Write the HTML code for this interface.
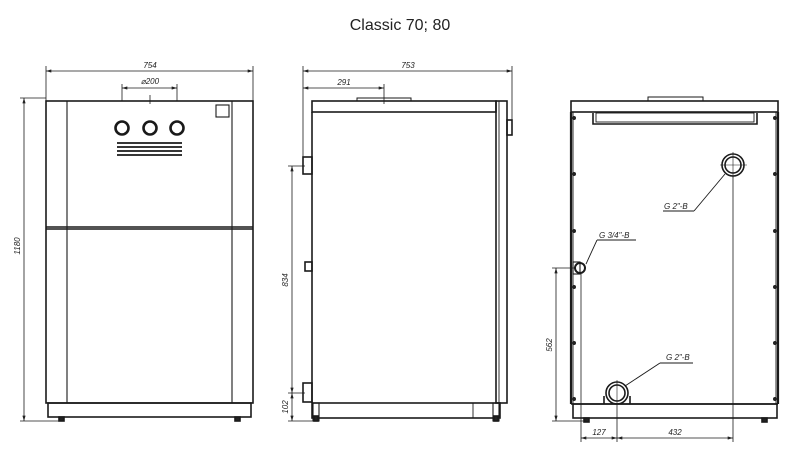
<!DOCTYPE html>
<html><head><meta charset="utf-8"><style>
html,body{margin:0;padding:0;background:#fff;}
svg{display:block;}
text{font-family:"Liberation Sans",sans-serif;font-style:italic;fill:#222;}
</style></head><body>
<svg width="800" height="463" viewBox="0 0 800 463" xmlns="http://www.w3.org/2000/svg">
<defs>
<marker id="a" viewBox="0 0 10 6" refX="10" refY="3" markerWidth="8" markerHeight="4" orient="auto-start-reverse"><path d="M0,0L10,3L0,6z" fill="#222"/></marker>
</defs>
<text x="400" y="30" text-anchor="middle" style="font-style:normal;font-size:16px" fill="#111">Classic 70; 80</text>

<g stroke="#1a1a1a" fill="none" stroke-width="1.6">
<!-- FRONT VIEW -->
<rect x="46" y="101" width="207" height="302"/>
<line x1="67" y1="101" x2="67" y2="403" stroke-width="1.1"/>
<line x1="232" y1="101" x2="232" y2="403" stroke-width="1.1"/>
<line x1="46" y1="227" x2="253" y2="227"/>
<line x1="46" y1="229" x2="253" y2="229"/>
<rect x="48" y="403" width="203" height="14"/>
<rect x="59" y="417" width="5" height="4" fill="#222"/>
<rect x="235" y="417" width="5" height="4" fill="#222"/>
<rect x="216" y="105" width="13" height="12" stroke-width="1.1"/>
<circle cx="122" cy="128" r="6.5" stroke-width="2.6"/>
<circle cx="150" cy="128" r="6.5" stroke-width="2.6"/>
<circle cx="177" cy="128" r="6.5" stroke-width="2.6"/>
<g stroke-width="1.8">
<line x1="117" y1="143" x2="182" y2="143"/><line x1="117" y1="147" x2="182" y2="147"/>
<line x1="117" y1="151" x2="182" y2="151"/><line x1="117" y1="155" x2="182" y2="155"/>
</g>
<g stroke-width="0.8">
<line x1="46" y1="66" x2="46" y2="101"/><line x1="253" y1="66" x2="253" y2="101"/>
<line x1="46" y1="71" x2="253" y2="71" marker-start="url(#a)" marker-end="url(#a)"/>
<line x1="122" y1="84" x2="122" y2="101"/><line x1="177" y1="84" x2="177" y2="101"/>
<line x1="122" y1="88" x2="177" y2="88" marker-start="url(#a)" marker-end="url(#a)"/>
<line x1="150" y1="95" x2="150" y2="104"/>
<line x1="20" y1="98" x2="46" y2="98"/><line x1="20" y1="421" x2="60" y2="421"/>
<line x1="24" y1="98" x2="24" y2="421" marker-start="url(#a)" marker-end="url(#a)"/>
</g>

<!-- SIDE VIEW -->
<rect x="312" y="101" width="184" height="11"/>
<rect x="357" y="98" width="54" height="3" stroke-width="1"/>
<line x1="312" y1="112" x2="312" y2="403"/>
<rect x="496" y="101" width="11" height="302"/>
<line x1="499" y1="101" x2="499" y2="403" stroke-width="0.9"/>
<rect x="507" y="120" width="5" height="15"/>
<rect x="303" y="157" width="9" height="17"/>
<rect x="305" y="262" width="7" height="9"/>
<rect x="303" y="383" width="9" height="19"/>
<rect x="312" y="403" width="188" height="15"/>
<line x1="473" y1="403" x2="473" y2="418" stroke-width="0.9"/>
<rect x="313" y="403" width="6" height="18" stroke-width="1.1"/>
<rect x="493" y="403" width="6" height="18" stroke-width="1.1"/>
<rect x="314" y="416" width="4" height="5" fill="#222"/>
<rect x="494" y="416" width="4" height="5" fill="#222"/>
<g stroke-width="0.8">
<line x1="303" y1="66" x2="303" y2="157"/><line x1="512" y1="66" x2="512" y2="120"/>
<line x1="303" y1="71" x2="512" y2="71" marker-start="url(#a)" marker-end="url(#a)"/>
<line x1="384" y1="84" x2="384" y2="104"/>
<line x1="303" y1="88" x2="384" y2="88" marker-start="url(#a)" marker-end="url(#a)"/>
<line x1="288" y1="166" x2="305" y2="166"/><line x1="288" y1="393" x2="305" y2="393"/><line x1="288" y1="421" x2="315" y2="421"/>
<line x1="292" y1="166" x2="292" y2="393" marker-start="url(#a)" marker-end="url(#a)"/>
<line x1="292" y1="393" x2="292" y2="421" marker-start="url(#a)" marker-end="url(#a)"/>
</g>

<!-- BACK VIEW -->
<rect x="571" y="101" width="207" height="11"/>
<rect x="648" y="97" width="55" height="4" stroke-width="1"/>
<line x1="571" y1="112" x2="571" y2="404" stroke-width="2.2"/>
<line x1="778" y1="112" x2="778" y2="404" stroke-width="2.2"/>
<line x1="573" y1="112" x2="573" y2="404" stroke-width="0.9"/>
<line x1="776" y1="112" x2="776" y2="404" stroke-width="0.9"/>
<line x1="571" y1="404" x2="778" y2="404"/>
<rect x="573" y="404" width="204" height="14"/>
<rect x="584" y="418" width="5" height="4" fill="#222"/>
<rect x="762" y="418" width="5" height="4" fill="#222"/>
<path d="M593,113 V124 H757 V113"/>
<rect x="596" y="113" width="158" height="9" stroke-width="0.9"/>
<g fill="#222" stroke="none">
<circle cx="574" cy="118" r="2"/><circle cx="775" cy="118" r="2"/>
<circle cx="574" cy="174" r="2"/><circle cx="775" cy="174" r="2"/>
<circle cx="574" cy="231" r="2"/><circle cx="775" cy="231" r="2"/>
<circle cx="574" cy="287" r="2"/><circle cx="775" cy="287" r="2"/>
<circle cx="574" cy="343" r="2"/><circle cx="775" cy="343" r="2"/>
<circle cx="574" cy="399" r="2"/><circle cx="775" cy="399" r="2"/>
</g>
<circle cx="733" cy="165" r="11" stroke-width="1.6"/>
<circle cx="733" cy="165" r="8"/>
<line x1="720" y1="165" x2="747" y2="165" stroke-width="0.6"/>
<line x1="733" y1="152" x2="733" y2="178" stroke-width="0.6"/>
<circle cx="617" cy="393" r="11" stroke-width="1.6"/>
<circle cx="617" cy="393" r="8"/>
<path d="M604,404 V396 M630,404 V396" />
<line x1="617" y1="380" x2="617" y2="404" stroke-width="0.6"/>
<rect x="573" y="262" width="7" height="12" stroke-width="1.1"/>
<circle cx="580" cy="268" r="5" stroke-width="2"/>
<g stroke-width="0.9">
<line x1="725" y1="174" x2="694" y2="211"/><line x1="663" y1="211" x2="694" y2="211"/>
<line x1="586" y1="264" x2="597" y2="240"/><line x1="597" y1="240" x2="636" y2="240"/>
<line x1="625" y1="386" x2="660" y2="363"/><line x1="660" y1="363" x2="693" y2="363"/>
</g>
<g stroke-width="0.8">
<line x1="733" y1="176" x2="733" y2="442"/>
<line x1="617" y1="404" x2="617" y2="442"/>
<line x1="581" y1="273" x2="581" y2="442"/>
<line x1="581" y1="438" x2="617" y2="438" marker-start="url(#a)" marker-end="url(#a)"/>
<line x1="617" y1="438" x2="733" y2="438" marker-start="url(#a)" marker-end="url(#a)"/>
<line x1="552" y1="268" x2="576" y2="268"/><line x1="552" y1="421" x2="586" y2="421"/>
<line x1="556" y1="268" x2="556" y2="421" marker-start="url(#a)" marker-end="url(#a)"/>
</g>
</g>

<g font-size="8">
<text x="150" y="68" text-anchor="middle">754</text>
<text x="150" y="84" text-anchor="middle">⌀200</text>
<text transform="translate(20,246) rotate(-90)" text-anchor="middle">1180</text>
<text x="408" y="68" text-anchor="middle">753</text>
<text x="344" y="85" text-anchor="middle">291</text>
<text transform="translate(288,280) rotate(-90)" text-anchor="middle">834</text>
<text transform="translate(288,407) rotate(-90)" text-anchor="middle">102</text>
<text x="664" y="209">G 2"-B</text>
<text x="599" y="238">G 3/4"-B</text>
<text x="666" y="360">G 2"-B</text>
<text x="599" y="435" text-anchor="middle">127</text>
<text x="675" y="435" text-anchor="middle">432</text>
<text transform="translate(552,345) rotate(-90)" text-anchor="middle">562</text>
</g>
</svg>
</body></html>
